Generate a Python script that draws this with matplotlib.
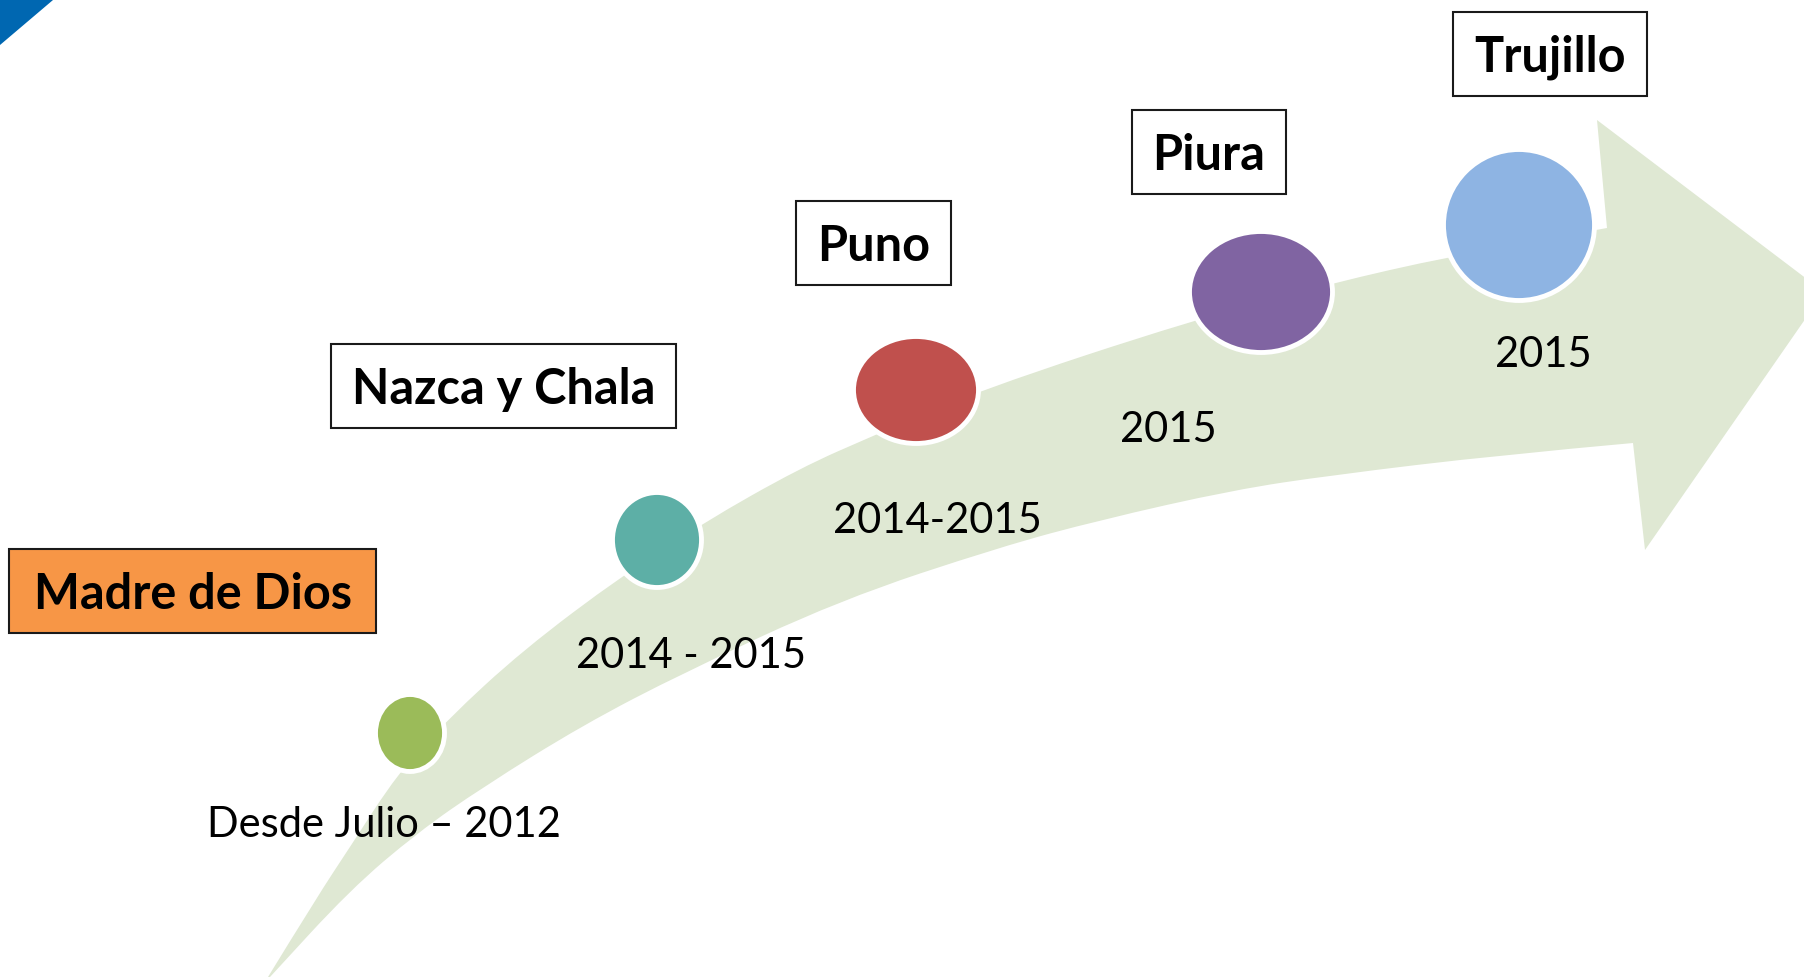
import matplotlib
matplotlib.use('Agg')
import matplotlib.pyplot as plt
from matplotlib.patches import Polygon, Ellipse, Rectangle, PathPatch
from matplotlib.path import Path
import numpy as np

plt.rcParams['font.family'] = ['Lato', 'DejaVu Sans']

# etapas del proyecto
places = ['Madre de Dios', 'Nazca y Chala', 'Puno', 'Piura', 'Trujillo']
periods = ['Desde Julio – 2012', '2014 - 2015', '2014-2015', '2015', '2015']
dot_colors = ['#9BBB59', '#5DAFA6', '#C0504D', '#8064A2', '#8EB4E3']
box_colors = ['#F79646', 'white', 'white', 'white', 'white']

# circulos (pixeles)
dot_x = [410, 657, 916, 1261, 1519]
dot_y = [733, 540, 390, 292, 225]
dot_w = [69, 89, 125, 143, 151]
dot_h = [77, 95, 107, 121, 151]

# cajas de titulo
box_left = [9, 331, 796, 1132, 1453]
box_right = [376, 676, 951, 1286, 1647]
box_top = [549, 344, 201, 110, 12]
box_bottom = [633, 428, 285, 194, 96]

# textos de fechas (linea base)
period_x = [384, 691, 937, 1168, 1543]
period_y = [837, 668, 533, 442, 367]

# contorno de la flecha
upper_x = [268, 317, 350, 398, 447, 523, 623, 703, 800, 875, 980, 1193, 1333, 1447, 1607]
upper_y = [977, 897, 847, 773, 720, 650, 575, 523, 468, 435, 390, 320, 283, 257, 228]
head_x = [1597, 1824, 1645, 1633]
head_y = [120, 292, 550, 443]
lower_x = [1633, 1500, 1333, 1233, 1100, 1000, 840, 683, 583, 483, 417, 350, 270]
lower_y = [443, 455, 475, 490, 520, 547, 600, 673, 725, 787, 833, 890, 977]


def smooth_edge(xs, ys):
    # curva suave (cuadratica) que pasa por los puntos medios
    p = list(zip(xs, ys))
    verts = [p[0]]
    codes = [Path.LINETO]
    for i in range(1, len(p) - 1):
        mid = ((p[i][0] + p[i + 1][0]) / 2, (p[i][1] + p[i + 1][1]) / 2)
        verts += [p[i], mid]
        codes += [Path.CURVE3, Path.CURVE3]
    verts.append(p[-1])
    codes.append(Path.LINETO)
    return verts, codes


fig = plt.figure(figsize=(18.04, 9.77), dpi=100)
ax = fig.add_axes([0, 0, 1, 1])
ax.set_xlim(0, 1804)
ax.set_ylim(977, 0)
ax.axis('off')

# triangulo azul de la esquina
ax.add_patch(Polygon([(0, 0), (53, 0), (0, 45)], closed=True, facecolor='#0067B1', edgecolor='none'))

v1, c1 = smooth_edge(upper_x, upper_y)
v2, c2 = smooth_edge(lower_x, lower_y)
verts = v1 + list(zip(head_x, head_y)) + v2 + [v1[0]]
codes = c1 + [Path.LINETO] * len(head_x) + c2 + [Path.CLOSEPOLY]
codes[0] = Path.MOVETO
ax.add_patch(PathPatch(Path(verts, codes), facecolor='#DFE8D3', edgecolor='none', zorder=1))

for i in range(len(places)):
    ax.add_patch(Ellipse((dot_x[i], dot_y[i]), dot_w[i], dot_h[i], facecolor=dot_colors[i],
                         edgecolor='white', linewidth=3.5, zorder=3))
    ax.add_patch(Rectangle((box_left[i], box_top[i]), box_right[i] - box_left[i], box_bottom[i] - box_top[i],
                           facecolor=box_colors[i], edgecolor='#1a1a1a', linewidth=1.5, zorder=4))
    cx = (box_left[i] + box_right[i]) / 2
    cy = (box_top[i] + box_bottom[i]) / 2
    ax.text(cx, cy + 18, places[i], fontsize=35, fontweight='bold', ha='center', va='baseline', zorder=5)
    ax.text(period_x[i], period_y[i], periods[i], fontsize=30, ha='center', va='baseline', zorder=5)

fig.savefig('out.png', dpi=100)
